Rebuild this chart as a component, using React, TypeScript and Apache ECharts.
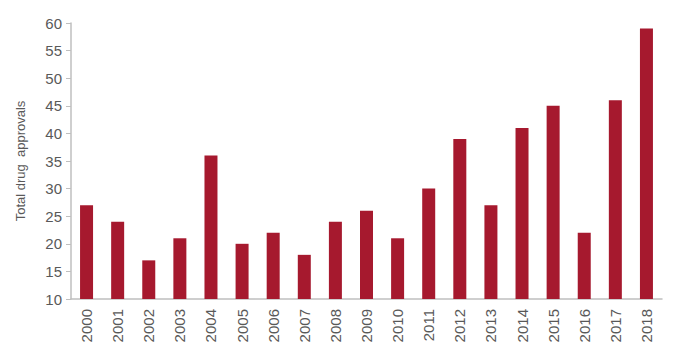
import React, { useEffect, useRef } from "react";
import * as echarts from "echarts";

const years = ["2000","2001","2002","2003","2004","2005","2006","2007","2008","2009","2010","2011","2012","2013","2014","2015","2016","2017","2018"];
const approvals = [27,24,17,21,36,20,22,18,24,26,21,30,39,27,41,45,22,46,59];

export default function App() {
  const ref = useRef<HTMLDivElement>(null);
  useEffect(() => {
    const chart = echarts.init(ref.current!, null, { renderer: "svg" });
    chart.setOption({
      animation: false,
      grid: { left: 71, right: 18, top: 23, bottom: 61 },
      xAxis: {
        type: "category",
        data: years,
        axisLine: { lineStyle: { color: "#bfbfbf", width: 1.5 } },
        axisTick: { show: false },
        axisLabel: { rotate: 90, color: "#595959", fontSize: 15, fontFamily: "Liberation Sans", margin: 10 },
      },
      yAxis: {
        type: "value",
        min: 10,
        max: 60,
        interval: 5,
        name: "Total drug  approvals",
        nameLocation: "middle",
        nameGap: 44,
        nameTextStyle: { color: "#595959", fontSize: 13, fontFamily: "Liberation Sans" },
        axisLine: { show: true, lineStyle: { color: "#bfbfbf", width: 1.5 } },
        axisTick: { show: true, length: 5, lineStyle: { color: "#bfbfbf" } },
        splitLine: { show: false },
        axisLabel: { color: "#595959", fontSize: 15, fontFamily: "Liberation Sans", margin: 9 },
      },
      series: [
        {
          type: "bar",
          data: approvals,
          barWidth: 13,
          itemStyle: { color: "#A6192E" },
        },
      ],
    });
    return () => chart.dispose();
  }, []);
  return <div ref={ref} style={{ width: 680, height: 360, position: "absolute", left: 0, top: 0 }} />;
}
